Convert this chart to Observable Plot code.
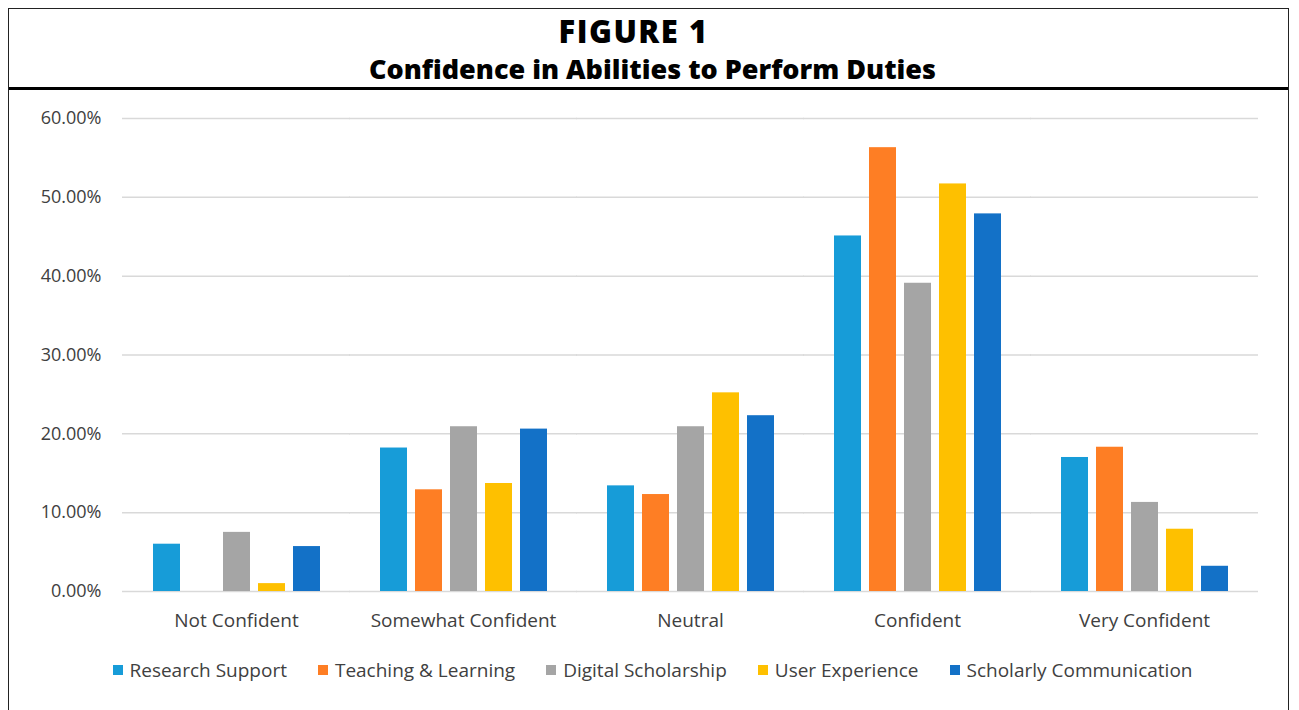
<!DOCTYPE html>
<html>
<head>
<meta charset="utf-8">
<script src="https://cdn.jsdelivr.net/npm/d3@7"></script>
<script src="https://cdn.jsdelivr.net/npm/@observablehq/plot@0.6"></script>
<style>
  html, body { margin: 0; padding: 0; background: #fff; }
  #frame {
    position: absolute; left: 8px; top: 8px; width: 1281px; height: 720px;
    border: 1px solid #222; box-sizing: border-box; background: #fff;
  }
  #title {
    text-align: center; font-family: "Open Sans", sans-serif; font-weight: 800;
    color: #000; height: 77px; padding-top: 1px;
    border-bottom: 3px solid #000; box-sizing: content-box;
  }
  #t1 { font-size: 31px; line-height: 42px; letter-spacing: 1.5px; margin-right: 30px; }
  #t2 { font-size: 27px; line-height: 33px; margin-left: 8px; }
  #legend {
    display: flex; justify-content: center; gap: 31px; margin-top: 17px; margin-left: 8px;
    font-family: "Open Sans", sans-serif; font-size: 19px; color: #404040;
  }
  #legend .item { display: flex; align-items: center; }
  #legend .sw { width: 10px; height: 10px; margin-right: 7px; }
</style>
</head>
<body>
<div id="frame">
  <div id="title"><div id="t1">FIGURE 1</div><div id="t2">Confidence in Abilities to Perform Duties</div></div>
  <div id="chart"></div>
  <div id="legend"></div>
</div>
<script>
const categories = ["Not Confident", "Somewhat Confident", "Neutral", "Confident", "Very Confident"];
const seriesNames = ["Research Support", "Teaching & Learning", "Digital Scholarship", "User Experience", "Scholarly Communication"];
const seriesColors = ["#179CD8", "#FE7E24", "#A5A5A5", "#FEC000", "#1371C7"];
const researchSupport = [6.0, 18.2, 13.4, 45.1, 17.0];
const teachingLearning = [0.0, 12.9, 12.3, 56.3, 18.3];
const digitalScholarship = [7.5, 20.9, 20.9, 39.1, 11.3];
const userExperience = [1.0, 13.7, 25.2, 51.7, 7.9];
const scholarlyCommunication = [5.7, 20.6, 22.3, 47.9, 3.2];
const yTicks = [0, 10, 20, 30, 40, 50, 60];

const seriesValues = [researchSupport, teachingLearning, digitalScholarship, userExperience, scholarlyCommunication];
const data = [];
categories.forEach((c, i) => {
  seriesNames.forEach((s, j) => data.push({category: c, series: s, value: seriesValues[j][i]}));
});

const chart = Plot.plot({
  width: 1279,
  height: 550,
  marginLeft: 113,
  marginRight: 30,
  marginTop: 28,
  marginBottom: 49,
  style: {fontFamily: "Open Sans, sans-serif", fontSize: "18px", color: "#404040", background: "#fff"},
  fx: {domain: categories, paddingInner: 0.26, paddingOuter: 0.13, label: null},
  x: {domain: seriesNames, paddingInner: 0.23, paddingOuter: 0, axis: null},
  y: {domain: [0, 60], label: null},
  color: {domain: seriesNames, range: seriesColors},
  marks: [
    Plot.ruleY(yTicks, {stroke: "#d9d9d9", strokeWidth: 1.5, insetLeft: -30, insetRight: -30}),
    Plot.axisY(yTicks, {tickSize: 0, tickPadding: 51, tickFormat: d => d.toFixed(2) + "%", fill: "#404040", fontSize: 18, label: null}),
    Plot.axisFx({anchor: "bottom", tickSize: 0, tickPadding: 22, fill: "#404040", fontSize: 19, label: null}),
    Plot.barY(data, {fx: "category", x: "series", y: "value", fill: "series"})
  ]
});
document.getElementById("chart").appendChild(chart);

const legend = document.getElementById("legend");
seriesNames.forEach((s, j) => {
  const it = document.createElement("div");
  it.className = "item";
  const sw = document.createElement("span");
  sw.className = "sw";
  sw.style.background = seriesColors[j];
  const t = document.createElement("span");
  t.textContent = s;
  it.appendChild(sw); it.appendChild(t);
  legend.appendChild(it);
});
</script>
</body>
</html>
